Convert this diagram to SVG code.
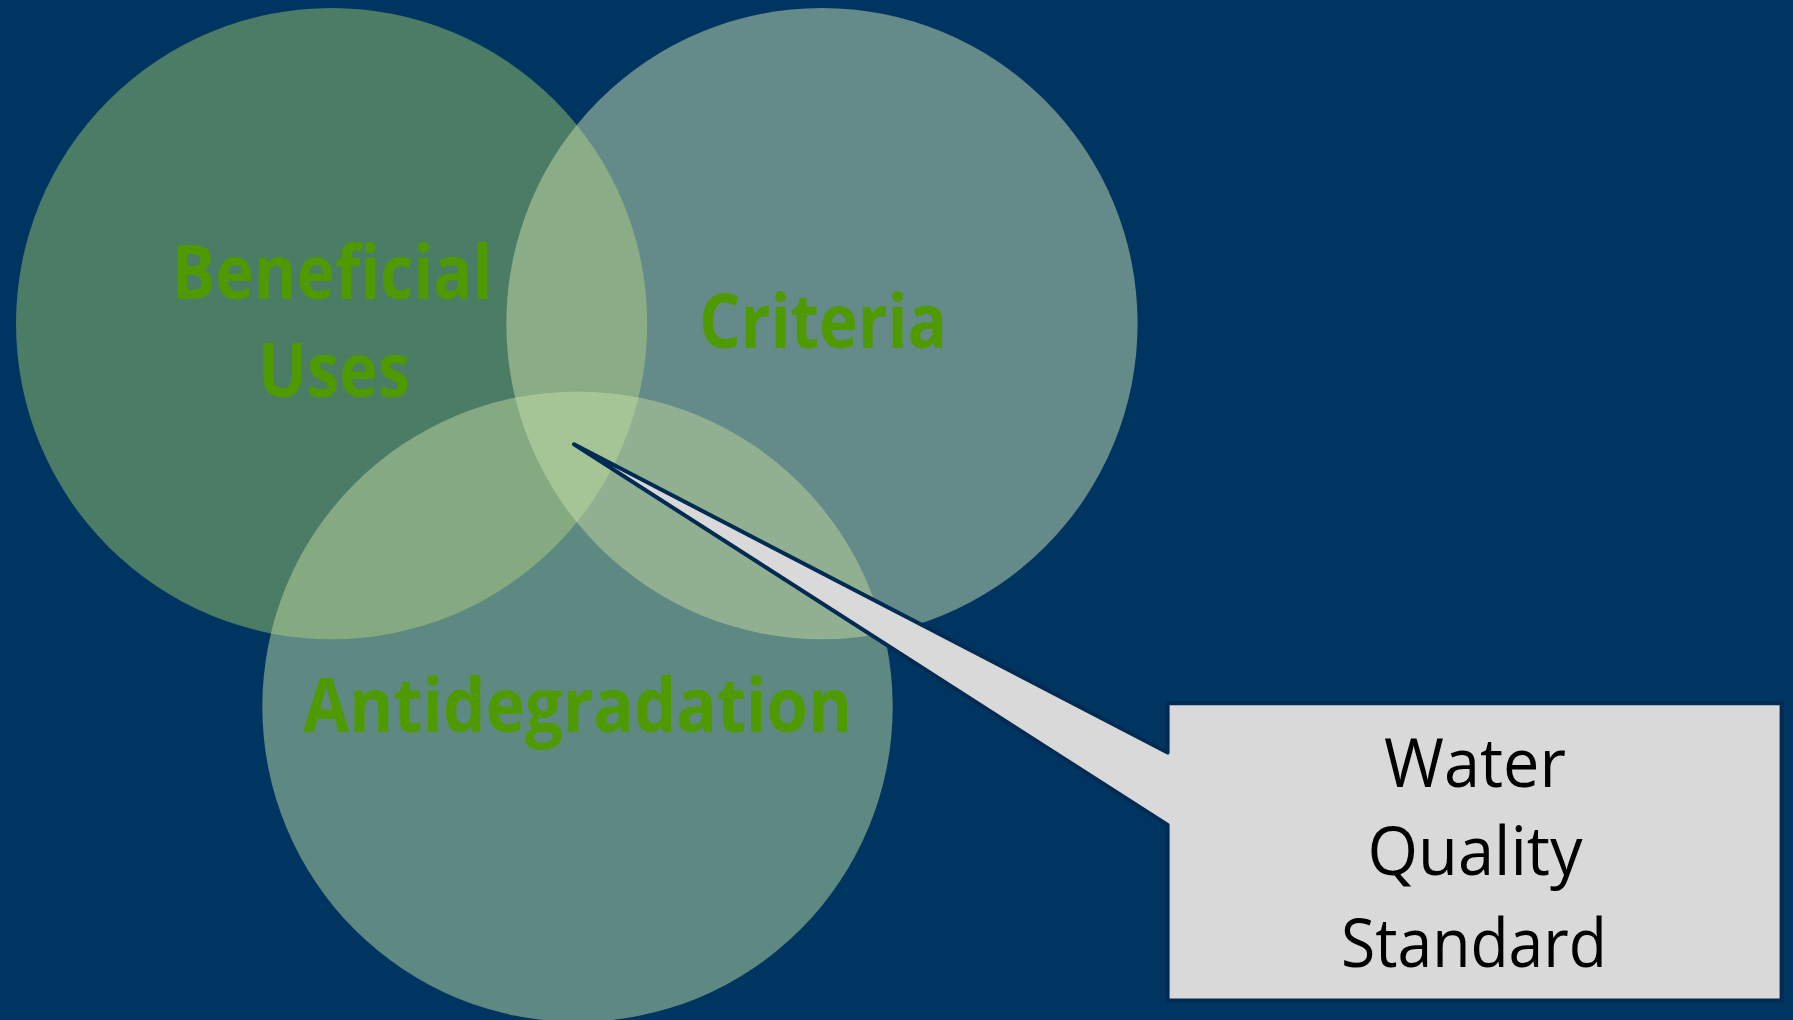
<svg xmlns="http://www.w3.org/2000/svg" width="1793" height="1020" viewBox="0 0 1793 1020">
<style>
.lbl{font-family:"Open Sans","Noto Sans","Liberation Sans",sans-serif;font-weight:700;font-size:76px;fill:#4F9A00;text-anchor:middle}
.std{font-family:"Open Sans","Noto Sans","Liberation Sans",sans-serif;font-weight:400;font-size:67px;fill:#000;text-anchor:middle}
</style>
<defs>
<clipPath id="k1"><circle cx="331.6" cy="323.6" r="315.6"/></clipPath>
<clipPath id="k2"><circle cx="822" cy="323.6" r="315.6"/></clipPath>
</defs>
<rect width="1793" height="1020" fill="#003562"/>
<g id="beneficial-uses">
<circle cx="331.6" cy="323.6" r="315.6" fill="#4B7C66"/>
</g>
<g id="criteria">
<circle cx="822" cy="323.6" r="315.6" fill="#648B89"/>
<circle cx="822" cy="323.6" r="315.6" fill="#8AAD88" clip-path="url(#k1)"/>
</g>
<g id="antidegradation">
<circle cx="577.5" cy="706.7" r="315.2" fill="#5E8982"/>
<circle cx="577.5" cy="706.7" r="315.2" fill="#85AA82" clip-path="url(#k1)"/>
<circle cx="577.5" cy="706.7" r="315.2" fill="#91B092" clip-path="url(#k2)"/>
<g clip-path="url(#k2)"><circle cx="577.5" cy="706.7" r="315.2" fill="#A5C596" clip-path="url(#k1)"/></g>
</g>
<g id="labels">
<text class="lbl" x="332" y="299" textLength="321" lengthAdjust="spacingAndGlyphs">Beneficial</text>
<text class="lbl" x="334" y="397" textLength="152" lengthAdjust="spacingAndGlyphs">Uses</text>
<text class="lbl" x="823" y="347.6" textLength="248" lengthAdjust="spacingAndGlyphs">Criteria</text>
<text class="lbl" x="577.5" y="731.8" textLength="549" lengthAdjust="spacingAndGlyphs">Antidegradation</text>
</g>
<g id="connectors"></g>
<g id="water-quality-standard">
<path d="M1167.6,703.3 H1781.6 V1000.6 H1167.6 V825 L574,444.3 L1167.6,752.5 Z" fill="#D9D9D9" stroke="#012B52" stroke-width="4" stroke-linejoin="round"/>
<text class="std" x="1475" y="786.7" textLength="182" lengthAdjust="spacingAndGlyphs">Water</text>
<text class="std" x="1475" y="875" textLength="215" lengthAdjust="spacingAndGlyphs">Quality</text>
<text class="std" x="1474" y="966.7" textLength="266" lengthAdjust="spacingAndGlyphs">Standard</text>
</g>
</svg>
